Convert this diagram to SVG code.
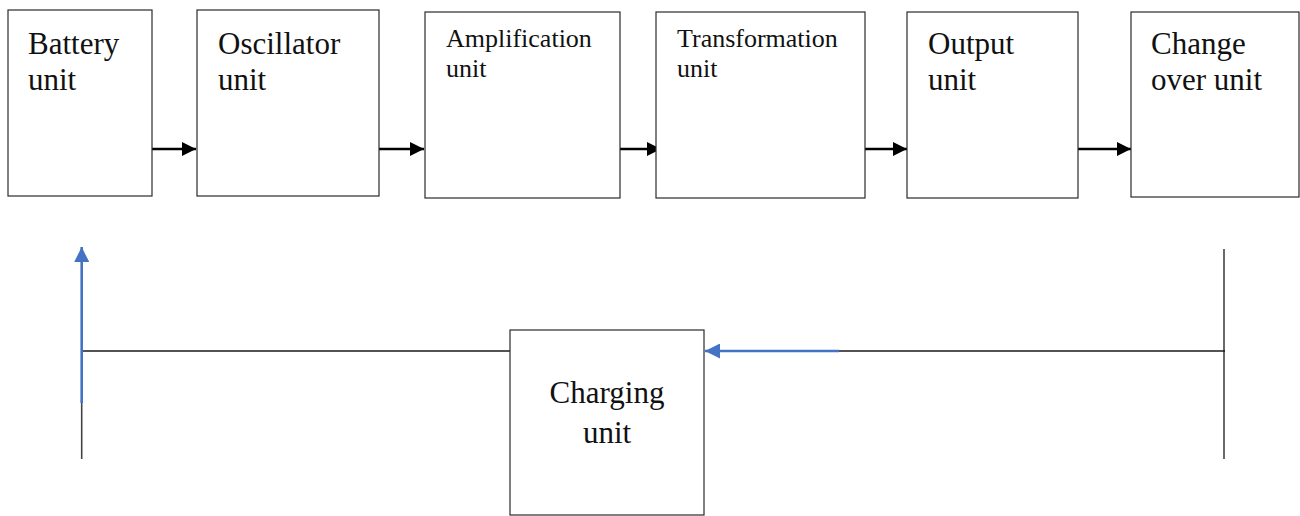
<svg xmlns="http://www.w3.org/2000/svg" width="1300" height="516" viewBox="0 0 1300 516">
  <style>
    .box { fill: #ffffff; stroke: #2b2b2b; stroke-width: 1.2; }
    .lbl { font-family: "Liberation Serif", "Times New Roman", serif; font-size: 31px; fill: #111111; }
    .lbl-s { font-family: "Liberation Serif", "Times New Roman", serif; font-size: 26px; fill: #111111; }
    .flow { stroke: #000000; stroke-width: 2.5; fill: none; }
    .wire { stroke: #1a1a1a; stroke-width: 1.3; fill: none; }
    .wire-v { stroke: #444444; stroke-width: 1.6; fill: none; }
    .blue { stroke: #4472c4; stroke-width: 2.6; fill: none; }
  </style>
  <defs>
    <marker id="headBlack" viewBox="0 0 10 10" refX="10" refY="5" markerUnits="userSpaceOnUse" markerWidth="15" markerHeight="14" orient="auto">
      <path d="M0,0 L10,5 L0,10 Z" fill="#000000"/>
    </marker>
    <marker id="headBlue" viewBox="0 0 10 10" refX="10" refY="5" markerUnits="userSpaceOnUse" markerWidth="16" markerHeight="15" orient="auto">
      <path d="M0,0 L10,5 L0,10 Z" fill="#4472c4"/>
    </marker>
  </defs>

  <rect width="1300" height="516" fill="#ffffff"/>

  <g id="connectors">
    <!-- forward chain -->
    <line class="flow" x1="152" y1="149" x2="196" y2="149" marker-end="url(#headBlack)"/>
    <line class="flow" x1="379" y1="149" x2="424" y2="149" marker-end="url(#headBlack)"/>
    <line class="flow" x1="620" y1="149" x2="661" y2="149" marker-end="url(#headBlack)"/>
    <line class="flow" x1="865" y1="149" x2="907" y2="149" marker-end="url(#headBlack)"/>
    <line class="flow" x1="1078" y1="149" x2="1131" y2="149" marker-end="url(#headBlack)"/>
    <!-- charging loop -->
    <line class="wire-v" x1="1224" y1="249" x2="1224" y2="459"/>
    <line class="wire" x1="839" y1="351" x2="1225" y2="351"/>
    <line class="blue" x1="839" y1="351" x2="705" y2="351" marker-end="url(#headBlue)"/>
    <line class="wire" x1="82" y1="351" x2="510" y2="351"/>
    <line class="wire-v" x1="81.7" y1="400" x2="81.7" y2="459"/>
    <line class="blue" x1="81.7" y1="403" x2="81.7" y2="247" marker-end="url(#headBlue)"/>
  </g>

  <g id="battery">
    <rect class="box" x="8" y="10" width="144" height="186"/>
    <text class="lbl" x="28" y="54">Battery</text>
    <text class="lbl" x="28" y="90">unit</text>
  </g>

  <g id="oscillator">
    <rect class="box" x="197" y="10" width="182" height="186"/>
    <text class="lbl" x="218" y="54">Oscillator</text>
    <text class="lbl" x="218" y="90">unit</text>
  </g>

  <g id="amplification">
    <rect class="box" x="425" y="12" width="195" height="186"/>
    <text class="lbl-s" x="446" y="47">Amplification</text>
    <text class="lbl-s" x="446" y="77">unit</text>
  </g>

  <g id="transformation">
    <rect class="box" x="656" y="12" width="209" height="186"/>
    <text class="lbl-s" x="677" y="47">Transformation</text>
    <text class="lbl-s" x="677" y="77">unit</text>
  </g>

  <g id="output">
    <rect class="box" x="907" y="12" width="171" height="186"/>
    <text class="lbl" x="928" y="54">Output</text>
    <text class="lbl" x="928" y="90">unit</text>
  </g>

  <g id="changeover">
    <rect class="box" x="1131" y="12" width="168" height="185"/>
    <text class="lbl" x="1151" y="54">Change</text>
    <text class="lbl" x="1151" y="90">over unit</text>
  </g>

  <g id="charging">
    <rect class="box" x="510" y="330" width="194" height="185"/>
    <text class="lbl" x="607" y="403" text-anchor="middle">Charging</text>
    <text class="lbl" x="607" y="443" text-anchor="middle">unit</text>
  </g>
</svg>
